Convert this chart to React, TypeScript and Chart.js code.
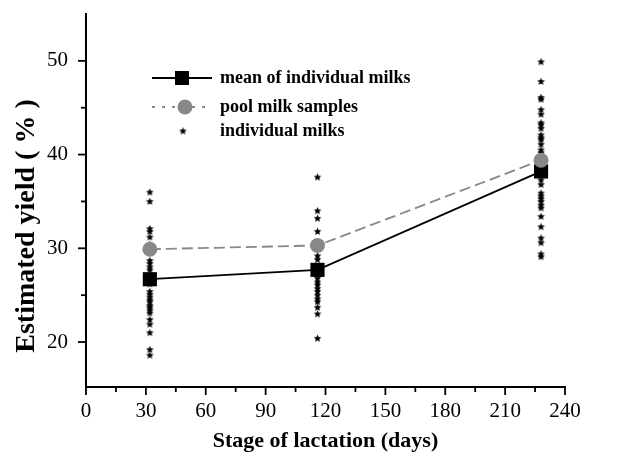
import React, { useEffect, useRef } from "react";
import { Chart, registerables } from "chart.js";

Chart.register(...registerables);

// ---- data ----
const stageDays = [32, 116, 228];
const meanYield = [26.7, 27.7, 38.2];
const poolYield = [29.9, 30.3, 39.4];
const individualEarly = [36.0, 35.0, 32.1, 31.8, 31.2, 30.4, 28.7, 28.4, 28.0, 27.7, 26.2, 25.4, 25.1, 24.8, 24.5, 24.3, 23.9, 23.7, 23.4, 23.1, 22.4, 21.9, 21.0, 19.2, 18.6];
const individualMid = [37.6, 34.0, 33.2, 31.8, 29.2, 28.8, 27.2, 26.8, 26.4, 26.1, 25.7, 25.4, 25.0, 24.6, 24.3, 23.7, 23.0, 20.4];
const individualLate = [49.9, 47.8, 46.1, 45.9, 44.8, 44.3, 43.4, 43.2, 42.8, 42.1, 41.8, 41.6, 41.1, 40.5, 40.2, 37.3, 36.8, 35.9, 35.6, 35.3, 35.0, 34.6, 34.3, 33.4, 32.3, 31.1, 30.6, 29.4, 29.1];
const xTicks = [0, 30, 60, 90, 120, 150, 180, 210, 240];
const xMinorTicks = [15, 45, 75, 105, 135, 165, 195, 225];
const yTicks = [20, 30, 40, 50];
const yMinorTicks = [25, 35, 45];
const legendLabels = ["mean of individual milks", "pool milk samples", "individual milks"];
const xTitle = "Stage of lactation (days)";
const yTitle = "Estimated yield ( % )";

const SERIF = "'Liberation Serif', 'Times New Roman', serif";

function makeStar(): HTMLCanvasElement {
  const c = document.createElement("canvas");
  c.width = 9;
  c.height = 9;
  const g = c.getContext("2d")!;
  g.fillStyle = "#000";
  g.beginPath();
  for (let i = 0; i < 10; i++) {
    const r = i % 2 === 0 ? 4 : 1.9;
    const a = -Math.PI / 2 + (i * Math.PI) / 5;
    const px = 4.5 + r * Math.cos(a);
    const py = 4.7 + r * Math.sin(a);
    if (i === 0) g.moveTo(px, py);
    else g.lineTo(px, py);
  }
  g.closePath();
  g.fill();
  return c;
}

export default function App() {
  const ref = useRef<HTMLCanvasElement | null>(null);

  useEffect(() => {
    const canvas = ref.current;
    if (!canvas) return;
    const star = makeStar();

    const individualPoints = [
      ...individualEarly.map((y) => ({ x: stageDays[0], y })),
      ...individualMid.map((y) => ({ x: stageDays[1], y })),
      ...individualLate.map((y) => ({ x: stageDays[2], y })),
    ];

    const decorPlugin = {
      id: "decor",
      afterDraw(chart: any) {
        const ctx = chart.ctx as CanvasRenderingContext2D;
        const xs = chart.scales.x;
        const ys = chart.scales.y;
        const area = chart.chartArea;
        ctx.save();
        ctx.strokeStyle = "#000";
        ctx.lineWidth = 1.8;
        for (const v of xTicks) {
          const px = xs.getPixelForValue(v);
          ctx.beginPath();
          ctx.moveTo(px, area.bottom);
          ctx.lineTo(px, area.bottom + 8);
          ctx.stroke();
        }
        for (const v of xMinorTicks) {
          const px = xs.getPixelForValue(v);
          ctx.beginPath();
          ctx.moveTo(px, area.bottom);
          ctx.lineTo(px, area.bottom + 5);
          ctx.stroke();
        }
        for (const v of yTicks) {
          const py = ys.getPixelForValue(v);
          ctx.beginPath();
          ctx.moveTo(area.left - 8, py);
          ctx.lineTo(area.left, py);
          ctx.stroke();
        }
        for (const v of yMinorTicks) {
          const py = ys.getPixelForValue(v);
          ctx.beginPath();
          ctx.moveTo(area.left - 5, py);
          ctx.lineTo(area.left, py);
          ctx.stroke();
        }

        // axis titles
        ctx.fillStyle = "#000";
        ctx.font = `bold 22px ${SERIF}`;
        ctx.textAlign = "center";
        ctx.textBaseline = "middle";
        ctx.fillText(xTitle, (area.left + area.right) / 2, 441);
        ctx.save();
        ctx.translate(27, 226);
        ctx.rotate(-Math.PI / 2);
        ctx.font = `bold 28px ${SERIF}`;
        ctx.fillText(yTitle, 0, 0);
        ctx.restore();

        // legend
        const lx0 = 152;
        const lx1 = 212;
        const rows = [78, 107, 131];
        ctx.lineWidth = 1.8;
        ctx.strokeStyle = "#000";
        ctx.beginPath();
        ctx.moveTo(lx0, rows[0]);
        ctx.lineTo(lx1, rows[0]);
        ctx.stroke();
        ctx.fillStyle = "#000";
        ctx.fillRect(182 - 7, rows[0] - 7, 14, 14);

        ctx.strokeStyle = "#888";
        ctx.setLineDash([3, 7]);
        ctx.beginPath();
        ctx.moveTo(lx0, rows[1]);
        ctx.lineTo(lx1, rows[1]);
        ctx.stroke();
        ctx.setLineDash([]);
        ctx.fillStyle = "#888";
        ctx.beginPath();
        ctx.arc(185, rows[1], 7.5, 0, Math.PI * 2);
        ctx.fill();

        ctx.drawImage(star, 183 - 4.5, rows[2] - 4.5);

        ctx.fillStyle = "#000";
        ctx.font = `bold 18px ${SERIF}`;
        ctx.textAlign = "left";
        ctx.textBaseline = "middle";
        legendLabels.forEach((t, i) => ctx.fillText(t, 220, rows[i]));
        ctx.restore();
      },
    };

    const chart = new Chart(canvas, {
      type: "scatter",
      data: {
        datasets: [
          {
            label: legendLabels[1],
            data: stageDays.map((x, i) => ({ x, y: poolYield[i] })),
            showLine: true,
            borderColor: "#888",
            backgroundColor: "#888",
            borderWidth: 1.8,
            borderDash: [11, 5],
            pointStyle: "circle",
            pointRadius: 7.5,
            pointBorderWidth: 0,
          },
          {
            label: legendLabels[0],
            data: stageDays.map((x, i) => ({ x, y: meanYield[i] })),
            showLine: true,
            borderColor: "#000",
            backgroundColor: "#000",
            borderWidth: 1.8,
            pointStyle: "rect",
            pointRadius: 10,
            pointBorderWidth: 0,
          },
          {
            label: legendLabels[2],
            data: individualPoints,
            showLine: false,
            pointStyle: star as any,
            pointRadius: 4,
          },
        ],
      },
      options: {
        animation: false,
        responsive: false,
        maintainAspectRatio: false,
        layout: { padding: { top: 14, right: 56, left: 0, bottom: 0 } },
        plugins: {
          legend: { display: false },
          tooltip: { enabled: false },
        },
        scales: {
          x: {
            type: "linear",
            min: 0,
            max: 240,
            afterBuildTicks: (axis: any) => {
              axis.ticks = xTicks.map((v) => ({ value: v }));
            },
            afterFit: (axis: any) => {
              axis.height = 70;
              axis.paddingLeft = 0;
              axis.paddingRight = 0;
            },
            grid: { display: false, drawTicks: false },
            border: { display: true, color: "#000", width: 2 },
            ticks: {
              color: "#000",
              padding: 12,
              maxRotation: 0,
              autoSkip: false,
              font: { family: SERIF, size: 21 },
            },
          },
          y: {
            type: "linear",
            min: 15.2,
            max: 55,
            afterBuildTicks: (axis: any) => {
              axis.ticks = yTicks.map((v) => ({ value: v }));
            },
            afterFit: (axis: any) => {
              axis.width = 86;
              axis.paddingTop = 0;
              axis.paddingBottom = 0;
            },
            grid: { display: false, drawTicks: false },
            border: { display: true, color: "#000", width: 2 },
            ticks: {
              color: "#000",
              padding: 18,
              autoSkip: false,
              font: { family: SERIF, size: 21 },
            },
          },
        },
      },
      plugins: [decorPlugin],
    });

    return () => chart.destroy();
  }, []);

  return (
    <div style={{ position: "fixed", left: 0, top: 0, width: 621, height: 457, background: "#fff" }}>
      <canvas ref={ref} width={621} height={457} style={{ display: "block" }} />
    </div>
  );
}
